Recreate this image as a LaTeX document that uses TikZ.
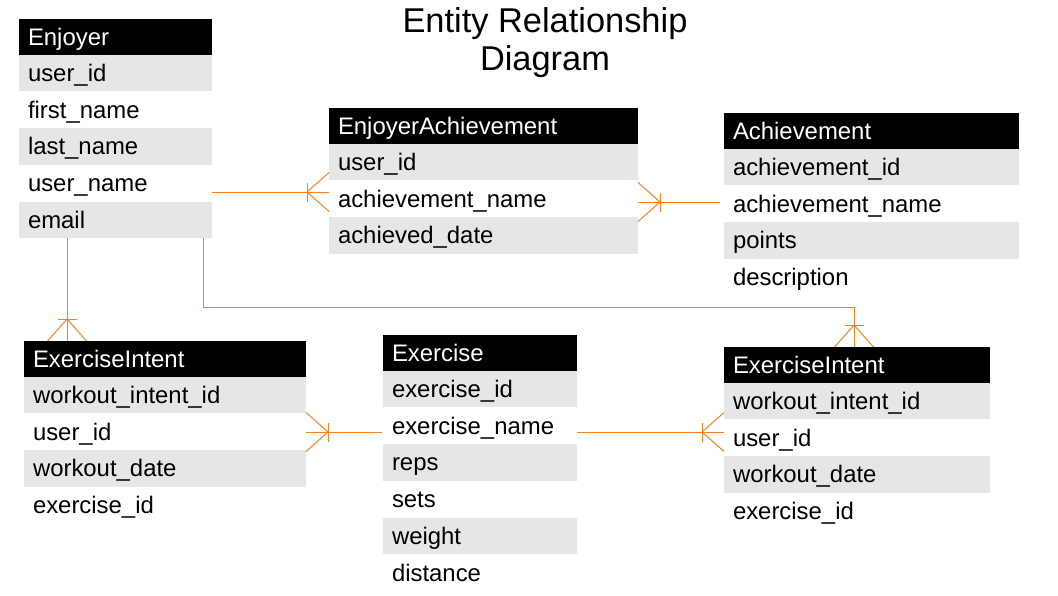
\documentclass[tikz,border=0pt]{standalone}
\usepackage{fontspec}
\setmainfont{Liberation Sans}
\usetikzlibrary{positioning}
\definecolor{rowgray}{RGB}{230,230,230}
\definecolor{linkorange}{RGB}{255,128,26}
\tikzset{
    tabcell/.style={anchor=north west, inner xsep=9pt, inner ysep=0pt, outer sep=0pt,
        text width=#1, align=left, text height=18.5pt, text depth=1.5pt,
        font=\fontsize{23.9}{28}\selectfont},
    tabhead/.style={tabcell=#1, fill=black, text=white, minimum height=35.5pt},
    grayrow/.style={tabcell=#1, fill=rowgray, minimum height=36.75pt},
    whiterow/.style={tabcell=#1, minimum height=36.75pt},
    link/.style={draw=linkorange, line width=1pt},
    crowfoot/.pic={
        \draw[link] (22,-9.5) -- (22,9.5);
        \draw[link] (0,19.5) -- (22,0) -- (0,-19.5);
    }
}

\begin{document}
\begin{tikzpicture}[x=1pt, y=-1pt]
    \useasboundingbox (0,0) rectangle (1058,595);

    \node[anchor=north, inner sep=0pt, align=center, font=\fontsize{34.4}{38}\selectfont]
        (title) at (545,7) {Entity Relationship\\Diagram};

    % Enjoyer
    \node[tabhead=175] (enjHead) at (19,19) {Enjoyer};
    \node[grayrow=175, below=0pt of enjHead] (enjUid) {user\_id};
    \node[whiterow=175, below=0pt of enjUid] (enjFirst) {first\_name};
    \node[grayrow=175, below=0pt of enjFirst] (enjLast) {last\_name};
    \node[whiterow=175, below=0pt of enjLast] (enjUname) {user\_name};
    \node[grayrow=175, below=0pt of enjUname] (enjEmail) {email};

    % EnjoyerAchievement
    \node[tabhead=291] (eaHead) at (329,108) {EnjoyerAchievement};
    \node[grayrow=291, below=0pt of eaHead] (eaUid) {user\_id};
    \node[whiterow=291, below=0pt of eaUid] (eaName) {achievement\_name};
    \node[grayrow=291, below=0pt of eaName] (eaDate) {achieved\_date};

    % Achievement
    \node[tabhead=277] (achHead) at (724,113) {Achievement};
    \node[grayrow=277, below=0pt of achHead] (achId) {achievement\_id};
    \node[whiterow=277, below=0pt of achId] (achName) {achievement\_name};
    \node[grayrow=277, below=0pt of achName] (achPoints) {points};
    \node[whiterow=277, below=0pt of achPoints] (achDesc) {description};

    % ExerciseIntent (left)
    \node[tabhead=264] (eilHead) at (24,341) {ExerciseIntent};
    \node[grayrow=264, below=0pt of eilHead] (eilWid) {workout\_intent\_id};
    \node[whiterow=264, below=0pt of eilWid] (eilUid) {user\_id};
    \node[grayrow=264, below=0pt of eilUid] (eilDate) {workout\_date};
    \node[whiterow=264, below=0pt of eilDate] (eilExid) {exercise\_id};

    % Exercise
    \node[tabhead=176] (exHead) at (383,335) {Exercise};
    \node[grayrow=176, below=0pt of exHead] (exId) {exercise\_id};
    \node[whiterow=176, below=0pt of exId] (exName) {exercise\_name};
    \node[grayrow=176, below=0pt of exName] (exReps) {reps};
    \node[whiterow=176, below=0pt of exReps] (exSets) {sets};
    \node[grayrow=176, below=0pt of exSets] (exWeight) {weight};
    \node[whiterow=176, below=0pt of exWeight] (exDist) {distance};

    % ExerciseIntent (right)
    \node[tabhead=248] (eirHead) at (724,347) {ExerciseIntent};
    \node[grayrow=248, below=0pt of eirHead] (eirWid) {workout\_intent\_id};
    \node[whiterow=248, below=0pt of eirWid] (eirUid) {user\_id};
    \node[grayrow=248, below=0pt of eirUid] (eirDate) {workout\_date};
    \node[whiterow=248, below=0pt of eirDate] (eirExid) {exercise\_id};

    % relations
    \draw[link] (enjUname.east |- 0,192) -- (eaName.west |- 0,192);
    \pic[rotate=180] at (eaName.west |- 0,192) {crowfoot};

    \draw[link, shorten >=4pt] (eaName.east |- 0,202) -- (achName.west |- 0,202);
    \pic at (eaName.east |- 0,202) {crowfoot};

    \coordinate (emailFoot) at ([xshift=48pt]enjEmail.south west);
    \draw[link] (emailFoot) -- (emailFoot |- eilHead.north);
    \pic[rotate=90] at (emailFoot |- eilHead.north) {crowfoot};

    \coordinate (emailTurn) at ([xshift=-9pt]enjEmail.south east);
    \coordinate (eirTop) at ([xshift=-3pt]eirHead.north);
    \draw[link] (emailTurn) |- ([yshift=40pt]eirTop) -- (eirTop);
    \pic[rotate=90] at (eirTop) {crowfoot};

    \draw[link, shorten >=1pt] (eilUid.east |- 0,432) -- (exName.west |- 0,432);
    \pic at (eilUid.east |- 0,432) {crowfoot};

    \draw[link] (exName.east |- 0,432) -- (eirUid.west |- 0,432);
    \pic[rotate=180] at (eirUid.west |- 0,432) {crowfoot};
\end{tikzpicture}
\end{document}
